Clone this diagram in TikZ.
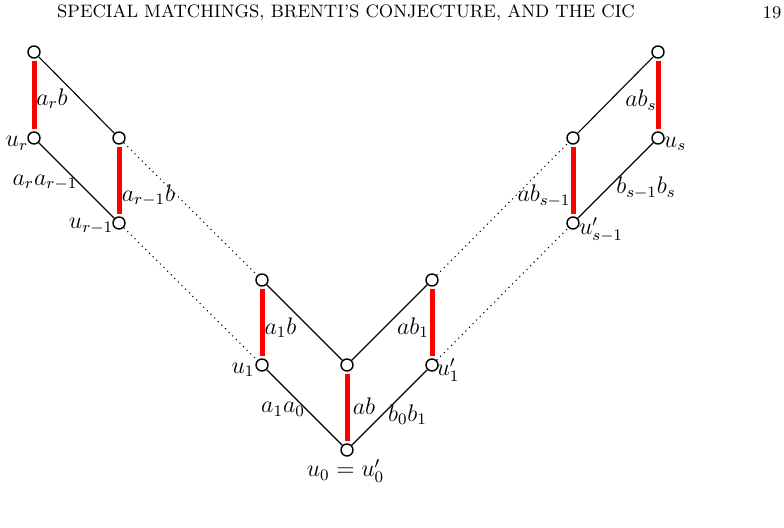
\documentclass[tikz,border=0pt]{standalone}
\usepackage{amsmath}
\begin{document}
\begin{tikzpicture}[x=0.5pt,y=-0.5pt,
  vtx/.style={circle,draw=black,line width=0.7pt,fill=white,minimum size=6pt,inner sep=0pt},
  edge/.style={line width=0.55pt,black},
  redge/.style={line width=2.5pt,red,shorten <=1.2pt,shorten >=1.2pt},
  dotedge/.style={line width=0.55pt,black,dotted},
  lab/.style={inner sep=0pt,font=\fontsize{11.5}{14}\selectfont},
  hdr/.style={inner sep=0pt,font=\fontsize{9}{11}\selectfont}]
\useasboundingbox (0,0) rectangle (784,528);
\node[hdr] (head) at (346,13) {SPECIAL MATCHINGS, BRENTI'S CONJECTURE, AND THE CIC};
\node[hdr] (page) at (772,13) {19};
% vertices
\coordinate (pA) at (34,52);
\coordinate (pur) at (34,138);
\coordinate (pB) at (119,138);
\coordinate (purm) at (119,223);
\coordinate (pC) at (262,280);
\coordinate (pu1) at (262,365);
\coordinate (pD) at (347,365);
\coordinate (pu0) at (347,450);
\coordinate (pE) at (432,280);
\coordinate (pu1p) at (432,365);
\coordinate (pF) at (573,138);
\coordinate (pusm) at (573,223);
\coordinate (pG) at (658,52);
\coordinate (pus) at (658,138);
\foreach \n in {A,ur,B,urm,C,u1,D,u0,E,u1p,F,usm,G,us}{\node[vtx] (\n) at (p\n) {};}
% black edges
\draw[edge] (A) -- (B);
\draw[edge] (ur) -- (urm);
\draw[edge] (C) -- (D);
\draw[edge] (u1) -- (u0);
\draw[edge] (E) -- (D);
\draw[edge] (u1p) -- (u0);
\draw[edge] (F) -- (G);
\draw[edge] (usm) -- (us);
% dotted
\draw[dotedge] (B) -- (C);
\draw[dotedge] (urm) -- (u1);
\draw[dotedge] (E) -- (F);
\draw[dotedge] (u1p) -- (usm);
% red
\draw[redge] (A) -- (ur);
\draw[redge] (B) -- (urm);
\draw[redge] (C) -- (u1);
\draw[redge] (D) -- (u0);
\draw[redge] (E) -- (u1p);
\draw[redge] (F) -- (usm);
\draw[redge] (G) -- (us);
% labels
\node[lab] (l1) at (52,98.5) {$a_rb$};
\node[lab] (l2) at (17,143.5) {$u_r$};
\node[lab] (l3) at (45,182.5) {$a_ra_{r-1}$};
\node[lab] (l4) at (148.5,195.5) {$a_{r-1}b$};
\node[lab] (l5) at (91,226) {$u_{r-1}$};
\node[lab] (l6) at (280.5,327.5) {$a_1b$};
\node[lab] (l7) at (243,370) {$u_1$};
\node[lab] (l8) at (283,409.5) {$a_1a_0$};
\node[lab] (l9) at (364,406.5) {$ab$};
\node[lab] (l10) at (407.5,414.5) {$b_0b_1$};
\node[lab] (l11) at (345.5,471) {$u_0=u'_0$};
\node[lab] (l12) at (413,327.5) {$ab_1$};
\node[lab] (l13) at (448,370) {$u'_1$};
\node[lab] (l14) at (544,196) {$ab_{s-1}$};
\node[lab] (l15) at (641,100) {$ab_s$};
\node[lab] (l16) at (675,144) {$u_s$};
\node[lab] (l17) at (646,188) {$b_{s-1}b_s$};
\node[lab] (l18) at (601,230) {$u'_{s-1}$};
\end{tikzpicture}
\end{document}
